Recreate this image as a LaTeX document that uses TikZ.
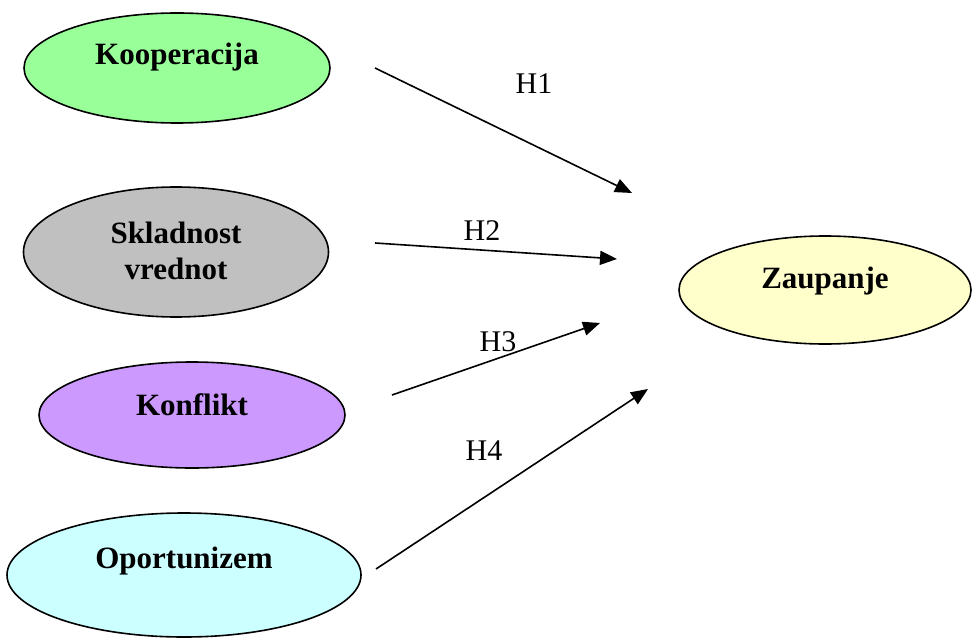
\documentclass[tikz,border=0pt]{standalone}
\usepackage{fontspec}
\setmainfont{Liberation Serif}
\usetikzlibrary{shapes.geometric,arrows.meta}
\definecolor{koopgreen}{HTML}{99FF99}
\definecolor{sklgray}{HTML}{C0C0C0}
\definecolor{konfviolet}{HTML}{CC99FF}
\definecolor{oportcyan}{HTML}{CCFFFF}
\definecolor{zaupyellow}{HTML}{FFFFCC}
\tikzset{
  oval/.style={ellipse, draw=black, line width=1.6pt, inner sep=0pt},
  ovaltext/.style={font=\fontsize{31}{36}\selectfont\bfseries, align=center, inner sep=0pt},
  hyplabel/.style={font=\fontsize{30}{34}\selectfont, inner sep=0pt},
  hyparrow/.style={line width=1.6pt, -{Triangle[length=17pt,width=14pt]}}
}
\begin{document}
\begin{tikzpicture}[x=1pt,y=-1pt]
  \useasboundingbox (0,0) rectangle (973,639);

  % constructs
  \node[oval, fill=koopgreen, minimum width=306pt, minimum height=110pt] (koop) at (177,68) {};
  \node[ovaltext] (koopt) at (177,57) {Kooperacija};

  \node[oval, fill=sklgray, minimum width=305pt, minimum height=130pt] (skl) at (176,252) {};
  \node[ovaltext] (sklt) at (176,251) {Skladnost\\vrednot};

  \node[oval, fill=konfviolet, minimum width=306pt, minimum height=106pt] (konf) at (192,415) {};
  \node[ovaltext] (konft) at (192,405) {Konflikt};

  \node[oval, fill=oportcyan, minimum width=354pt, minimum height=124pt] (oport) at (184,575) {};
  \node[ovaltext] (oportt) at (184,561) {Oportunizem};

  \node[oval, fill=zaupyellow, minimum width=292pt, minimum height=108pt] (zaup) at (825,290) {};
  \node[ovaltext] (zaupt) at (825,281) {Zaupanje};

  % arrow end points
  \coordinate (s1) at (375,68);  \coordinate (t1) at (632,193);
  \coordinate (s2) at (375,243); \coordinate (t2) at (617,259);
  \coordinate (s3) at (392,395); \coordinate (t3) at (600,323);
  \coordinate (s4) at (376,569); \coordinate (t4) at (648,389);

  \draw[hyparrow] (s1) -- (t1);
  \draw[hyparrow] (s2) -- (t2);
  \draw[hyparrow] (s3) -- (t3);
  \draw[hyparrow] (s4) -- (t4);

  % hypothesis labels
  \node[hyplabel] (h1) at (534,84) {H1};
  \node[hyplabel] (h2) at (482,231) {H2};
  \node[hyplabel] (h3) at (498,342) {H3};
  \node[hyplabel] (h4) at (484,451) {H4};
\end{tikzpicture}
\end{document}
